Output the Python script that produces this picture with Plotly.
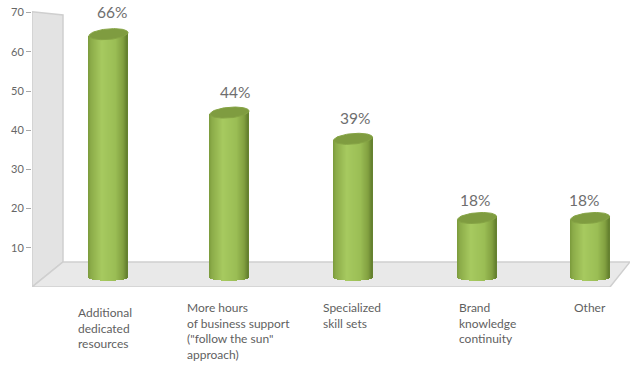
import numpy as np
import plotly.graph_objects as go

categories = ["Additional<br>dedicated<br>resources",
              "More hours<br>of business support<br>(\"follow the sun\"<br>approach)",
              "Specialized<br>skill sets",
              "Brand<br>knowledge<br>continuity",
              "Other"]
percent_labels = [66, 44, 39, 18, 18]
cylinder_tops = [64.5, 44.5, 37.8, 17.6, 17.6]
tick_values = [10, 20, 30, 40, 50, 60, 70]

# layout constants (x axis is in screen-like units)
PX = 3.92
Y_MAX = 287 / PX
centers = [108.5, 229.5, 353, 477, 590]
half_w = 19.5
label_x = [77, 186, 322, 458, 573]
label_top = [-17, -12, -12, -12, -12]
value_x = [112, 235, 355, 475, 584]
value_y = [70.2, 49.8, 43.1, 22.1, 22.1]

GRAD_U = [-1, -0.85, -0.3, 0.4, 0.8, 1]
GRAD_C = [(0x7b, 0x9a, 0x3c), (0x8c, 0xac, 0x49), (0xa7, 0xca, 0x60),
          (0x9b, 0xbe, 0x55), (0x82, 0xa0, 0x40), (0x62, 0x7e, 0x2e)]


def gradient(u):
    c = [np.interp(u, GRAD_U, [g[i] for g in GRAD_C]) for i in range(3)]
    return "rgb(%d,%d,%d)" % tuple(c)


fig = go.Figure()

# walls
wall_path = "M 32 0 L 32 70.2 L 63 69.4 L 63 6.4 Z"
floor_path = "M 32 0 L 63 6.4 L 630 6.4 L 610 0 Z"
wall = "#e3e3e3"
edge = "#cfcfcf"
shapes = [
    dict(type="path", path=wall_path, xref="x", yref="y", fillcolor=wall,
         line=dict(color=edge, width=1.5), layer="below"),
    dict(type="path", path=floor_path, xref="x", yref="y", fillcolor="#e9e9e9",
         line=dict(color=edge, width=1.5), layer="below"),
]

# cylinder bodies: narrow vertical strips, shaded across the width
sx, sbase, sh, sc = [], [], [], []
for c, top in zip(centers, cylinder_tops):
    for xp in np.arange(c - half_w + 0.5, c + half_w + 0.5, 1.0):
        u = (xp - c) / half_w
        bottom = 2.4 - 0.8 * np.sqrt(max(0, 1 - u * u))
        t = top + 0.4 * u
        sx.append(xp)
        sbase.append(bottom)
        sh.append(t - bottom)
        sc.append(gradient(u))
fig.add_trace(go.Bar(x=sx, y=sh, base=sbase, width=1.15,
                     marker=dict(color=sc, line=dict(width=0)),
                     hoverinfo="skip", showlegend=False))

# cylinder caps
theta = np.linspace(0, 2 * np.pi, 73)
for c, top in zip(centers, cylinder_tops):
    cap_x = c + half_w * np.cos(theta)
    cap_y = top + 1.35 * np.sin(theta) + 0.4 * np.cos(theta)
    fig.add_trace(go.Scatter(x=cap_x, y=cap_y, mode="lines", fill="toself",
                             fillcolor="#7f9c40",
                             line=dict(color="#86a445", width=1),
                             hoverinfo="skip", showlegend=False))

annotations = []
for xp, yp, v in zip(value_x, value_y, percent_labels):
    annotations.append(dict(x=xp, y=yp, text=f"{v}%", showarrow=False,
                            xanchor="center", yanchor="middle",
                            font=dict(family="Lato", size=15.5, color="#6e6e6e")))
for xp, yo, t in zip(label_x, label_top, categories):
    annotations.append(dict(x=xp, xref="x", y=0, yref="paper", yshift=yo, text=t,
                            showarrow=False, align="left",
                            xanchor="left", yanchor="top", borderpad=0,
                            font=dict(family="Lato", size=12, color="#5f5f5f")))

fig.update_layout(
    width=630, height=368, autosize=False,
    margin=dict(l=32, r=0, t=0, b=81, pad=0),
    paper_bgcolor="white", plot_bgcolor="white",
    barmode="overlay", bargap=0,
    shapes=shapes, annotations=annotations,
    xaxis=dict(range=[32, 630], visible=False, fixedrange=True),
    yaxis=dict(range=[0, Y_MAX], tickvals=tick_values, showgrid=False,
               zeroline=False, showline=False, ticks="outside", ticklen=5,
               tickcolor="#a8a8a8", tickfont=dict(family="Lato", size=11, color="#666666"),
               automargin=False, fixedrange=True),
)
fig.write_html("out.html", config=dict(displayModeBar=False),
               post_script="document.body.style.margin='0';document.documentElement.style.overflow='hidden';")
